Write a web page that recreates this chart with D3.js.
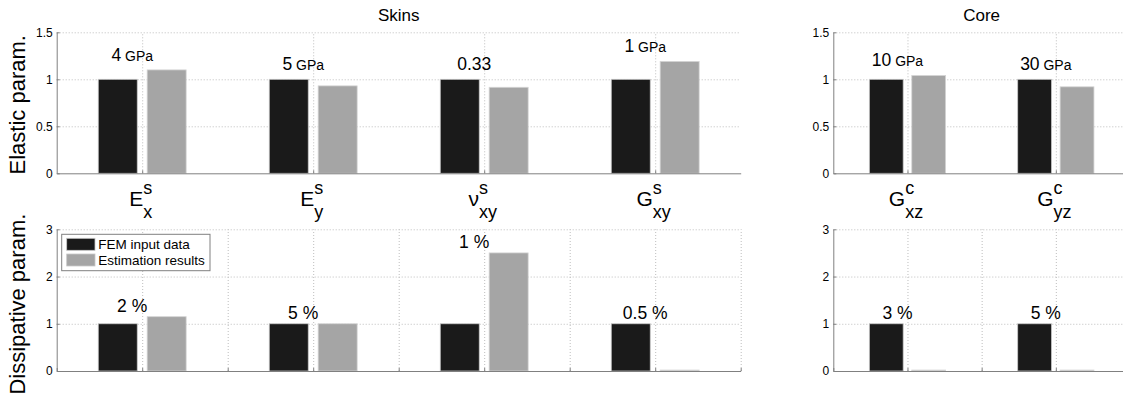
<!DOCTYPE html>
<html>
<head>
<meta charset="utf-8">
<script src="https://cdn.jsdelivr.net/npm/d3@7"></script>
<style>
  body { margin: 0; background: #fff; }
  svg { display: block; font-family: "Liberation Sans", Arial, sans-serif; }
</style>
</head>
<body>
<script>
// ---- data ----
const skinSymbols = ['E', 'E', 'ν', 'G'];
const skinSubs = ['x', 'y', 'xy', 'xy'];
const coreSymbols = ['G', 'G'];
const coreSubs = ['xz', 'yz'];

const skinElasticRef = [1, 1, 1, 1];
const skinElasticEst = [1.10, 0.93, 0.915, 1.19];
const coreElasticRef = [1, 1];
const coreElasticEst = [1.04, 0.92];

const skinDissRef = [1, 1, 1, 1];
const skinDissEst = [1.15, 1.0, 2.5, 0.02];
const coreDissRef = [1, 1];
const coreDissEst = [0.02, 0.02];

const skinElasticNum = ['4', '5', '0.33', '1'];
const skinElasticUnit = ['GPa', 'GPa', '', 'GPa'];
const coreElasticNum = ['10', '30'];
const coreElasticUnit = ['GPa', 'GPa'];
const skinDissLabels = ['2 %', '5 %', '1 %', '0.5 %'];
const coreDissLabels = ['3 %', '5 %'];

const elasticTicks = [0, 0.5, 1, 1.5];
const dissTicks = [0, 1, 2, 3];
const legendLabels = ['FEM input data', 'Estimation results'];

const W = 1123, H = 401;
const BLACK = '#1a1a1a', GREY = '#a5a5a5', AXIS = '#808080', GRID = '#bdbdbd';

const svg = d3.select('body').append('svg')
    .attr('width', W)
    .attr('height', H)
    .style('background', '#fff');

function panel(o) {
    const n = o.ref.length;
    const x = d3.scaleLinear().domain([0.5, n + 0.5]).range([o.x0, o.x1]);
    const y = d3.scaleLinear().domain([0, o.ymax]).range([o.yb, o.yt]);
    const g = svg.append('g');
    const bw = 0.228, off = 0.143;

    // horizontal grid
    g.append('g')
        .attr('transform', `translate(${o.x0},0)`)
        .call(d3.axisLeft(y).tickValues(o.ticks.filter(t => t > 0)).tickSize(-(o.x1 - o.x0)).tickFormat(''))
        .call(s => s.select('.domain').remove())
        .selectAll('line').attr('stroke', GRID).attr('stroke-dasharray', '1,2');

    // vertical grid
    g.append('g')
        .attr('transform', `translate(0,${o.yb})`)
        .call(d3.axisBottom(x).tickValues(o.vgrid.filter(v => v > 0.5)).tickSize(-(o.yb - o.yt)).tickFormat(''))
        .call(s => s.select('.domain').remove())
        .selectAll('line').attr('stroke', GRID).attr('stroke-dasharray', '1,2');

    // bars
    g.selectAll('rect.ref').data(o.ref).enter().append('rect')
        .attr('x', (d, i) => x(i + 1 - off - bw / 2))
        .attr('width', x(bw) - x(0))
        .attr('y', d => y(d))
        .attr('height', d => y(0) - y(d))
        .attr('fill', BLACK).attr('stroke', '#c8c8c8').attr('stroke-width', 0.8);
    g.selectAll('rect.est').data(o.est).enter().append('rect')
        .attr('x', (d, i) => x(i + 1 + off - bw / 2))
        .attr('width', x(bw) - x(0))
        .attr('y', d => y(d))
        .attr('height', d => y(0) - y(d))
        .attr('fill', GREY).attr('stroke', '#d4d4d4').attr('stroke-width', 0.8);

    // axes
    g.append('g')
        .attr('transform', `translate(0,${o.yb})`)
        .call(d3.axisBottom(x).tickValues(o.vgrid).tickSizeInner(-3).tickSizeOuter(0).tickFormat(''))
        .call(s => s.selectAll('path,line').attr('stroke', AXIS));
    g.append('g')
        .attr('transform', `translate(${o.x0},0)`)
        .call(d3.axisLeft(y).tickValues(o.ticks).tickSizeInner(-3).tickSizeOuter(0).tickPadding(4).tickFormat(d => String(d)))
        .call(s => s.selectAll('path,line').attr('stroke', AXIS))
        .call(s => s.selectAll('text').attr('font-size', 12).attr('fill', '#000')
            .attr('font-family', '"Liberation Sans", Arial, sans-serif'));

    // value labels
    const lab = g.selectAll('text.val').data(o.num).enter().append('text')
        .attr('x', (d, i) => x(i + 1) - 10)
        .attr('y', (d, i) => y(Math.max(o.ref[i], o.est[i]) + 0.1))
        .attr('text-anchor', 'middle')
        .attr('font-size', 17.5);
    lab.append('tspan').text(d => d);
    lab.append('tspan').attr('font-size', 14)
        .text((d, i) => o.unit && o.unit[i] ? ' ' + o.unit[i] : '');

    return x;
}

function symbols(x, syms, sup, subs) {
    syms.forEach((s, i) => {
        const t = svg.append('text').attr('font-size', 21).attr('y', 206).text(s);
        const sp = svg.append('text').attr('font-size', 18).attr('y', 194).text(sup);
        const sb = svg.append('text').attr('font-size', 18).attr('y', 217.5).text(subs[i]);
        const w0 = t.node().getComputedTextLength();
        const ws = Math.max(sp.node().getComputedTextLength(), sb.node().getComputedTextLength());
        const start = x(i + 1) - (w0 + ws) / 2 - 1.5;
        t.attr('x', start);
        sp.attr('x', start + w0);
        sb.attr('x', start + w0);
    });
}

const skinTop = { x0: 56.7, x1: 740.7, yt: 32.3, yb: 173.3 };
const coreTop = { x0: 833.3, x1: 1130, yt: 32.3, yb: 173.3 };
const dissY = { yt: 229.3, yb: 371 };

const xs = panel(Object.assign({}, skinTop, {
    ref: skinElasticRef, est: skinElasticEst, ymax: 1.5, ticks: elasticTicks,
    vgrid: [1, 2, 3, 4], num: skinElasticNum, unit: skinElasticUnit
}));
const xc = panel(Object.assign({}, coreTop, {
    ref: coreElasticRef, est: coreElasticEst, ymax: 1.5, ticks: elasticTicks,
    vgrid: [1, 2], num: coreElasticNum, unit: coreElasticUnit
}));
panel(Object.assign({ x0: skinTop.x0, x1: skinTop.x1 }, dissY, {
    ref: skinDissRef, est: skinDissEst, ymax: 3, ticks: dissTicks,
    vgrid: [0.5, 1, 1.5, 2, 2.5, 3, 3.5, 4, 4.5], num: skinDissLabels
}));
panel(Object.assign({ x0: coreTop.x0, x1: coreTop.x1 }, dissY, {
    ref: coreDissRef, est: coreDissEst, ymax: 3, ticks: dissTicks,
    vgrid: [0.5, 1, 1.5, 2, 2.5], num: coreDissLabels
}));

symbols(xs, skinSymbols, 's', skinSubs);
symbols(xc, coreSymbols, 'c', coreSubs);

// titles
svg.append('text').attr('x', (skinTop.x0 + skinTop.x1) / 2).attr('y', 20.5)
    .attr('text-anchor', 'middle').attr('font-size', 17).text('Skins');
svg.append('text').attr('x', (coreTop.x0 + coreTop.x1) / 2).attr('y', 20.5)
    .attr('text-anchor', 'middle').attr('font-size', 17).text('Core');

// y titles
svg.append('text').attr('transform', `translate(24.5,${(skinTop.yt + skinTop.yb) / 2 + 2}) rotate(-90)`)
    .attr('text-anchor', 'middle').attr('font-size', 22).text('Elastic param.');
svg.append('text').attr('transform', `translate(24.5,${(dissY.yt + dissY.yb) / 2 + 4}) rotate(-90)`)
    .attr('text-anchor', 'middle').attr('font-size', 22).text('Dissipative param.');

// legend
const lg = svg.append('g');
lg.append('rect').attr('x', 61.7).attr('y', 234.3).attr('width', 148.3).attr('height', 36.4)
    .attr('fill', '#fff').attr('stroke', AXIS);
lg.selectAll('rect.sw').data(legendLabels).enter().append('rect')
    .attr('x', 66.7).attr('y', (d, i) => 238.3 + i * 15.7)
    .attr('width', 28.3).attr('height', 12)
    .attr('fill', (d, i) => i ? GREY : BLACK).attr('stroke', '#c8c8c8').attr('stroke-width', 0.8);
lg.selectAll('text').data(legendLabels).enter().append('text')
    .attr('x', 98.3).attr('y', (d, i) => 249 + i * 15.7)
    .attr('font-size', 13.5).text(d => d);
</script>
</body>
</html>
